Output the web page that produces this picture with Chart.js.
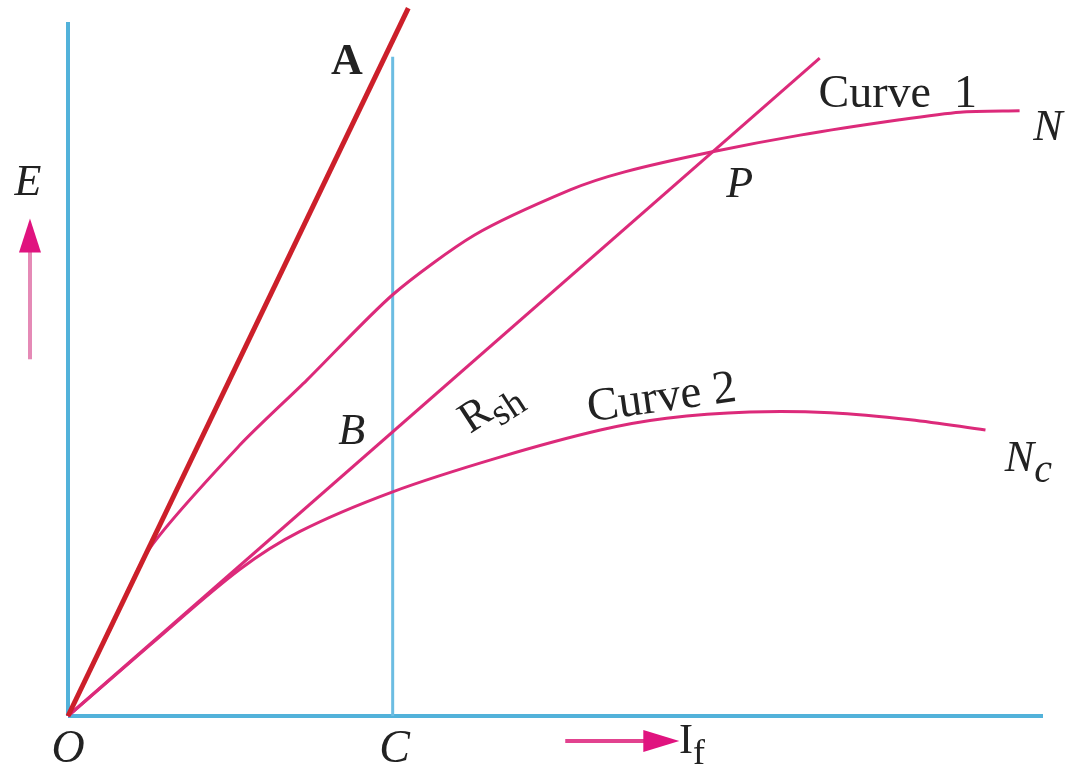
<!DOCTYPE html>
<html>
<head>
<meta charset="utf-8">
<script src="https://cdn.jsdelivr.net/npm/chart.js@4.4.0/dist/chart.umd.min.js"></script>
<style>
html, body { margin: 0; padding: 0; background: #fff; }
#wrap { width: 1081px; height: 778px; }
</style>
</head>
<body>
<div id="wrap"><canvas id="chart"></canvas></div>
<script>
// field current If (x) and generated emf E (y), arbitrary units
const airGapIf = [0, 3.49];
const airGapE = [0, 10.2];

const rshIf = [0, 7.71];
const rshE = [0, 9.48];

const curve1If = [0, 0.43, 0.84, 1.76, 2.45, 3.33, 4.17, 5.15, 5.71, 6.61, 7.51, 8.53, 9.15, 9.76];
const curve1E = [0, 1.24, 2.42, 3.90, 4.84, 6.07, 6.93, 7.58, 7.84, 8.13, 8.37, 8.59, 8.70, 8.72];

const curve2If = [0, 0.84, 1.76, 2.38, 3.33, 4.43, 5.46, 6.14, 6.99, 7.82, 8.64, 9.41];
const curve2E = [0, 1.02, 2.11, 2.66, 3.23, 3.73, 4.12, 4.29, 4.38, 4.37, 4.27, 4.12];

const lineCIf = [3.33, 3.33];
const lineCE = [0, 9.5];

const yAxisIf = [0, 0];
const yAxisE = [0, 10];
const xAxisIf = [0, 10];
const xAxisE = [0, 0];

const pts = (xs, ys) => xs.map((x, i) => ({ x: x, y: ys[i] }));

const pink = '#dc2a7a';
const blue = '#52b2da';

const labels = [
  { text: 'A', x: 2.86, y: 9.41, font: 'bold 44px "Liberation Serif"' },
  { text: 'E', x: -0.41, y: 7.68, font: 'italic 44px "Liberation Serif"' },
  { text: 'O', x: 0, y: -0.49, font: 'italic 46px "Liberation Serif"' },
  { text: 'C', x: 3.35, y: -0.49, font: 'italic 46px "Liberation Serif"' },
  { text: 'B', x: 2.91, y: 4.09, font: 'italic 44px "Liberation Serif"' },
  { text: 'P', x: 6.89, y: 7.65, font: 'italic 44px "Liberation Serif"' },
  { text: 'N', x: 10.05, y: 8.47, font: 'italic 44px "Liberation Serif"' },
  { text: 'Curve  1', x: 8.51, y: 8.95, font: '46px "Liberation Serif"' },
  { text: 'Curve 2', x: 6.09, y: 4.57, font: '47px "Liberation Serif"', rot: -8 },
  { text: 'R', sub: 'sh', x: 4.33, y: 4.45, font: '44px "Liberation Serif"', subFont: '38px "Liberation Serif"', rot: -33 },
  { text: 'N', sub: 'c', x: 9.85, y: 3.7, font: 'italic 44px "Liberation Serif"', subFont: 'italic 40px "Liberation Serif"' },
  { text: 'I', sub: 'f', x: 6.4, y: -0.38, font: '42px "Liberation Serif"', subFont: '36px "Liberation Serif"' }
];

const annotations = {
  id: 'annotations',
  afterDatasetsDraw(chart) {
    const ctx = chart.ctx;
    const xs = chart.scales.x, ys = chart.scales.y;
    ctx.save();
    ctx.fillStyle = '#222';
    ctx.textBaseline = 'middle';
    labels.forEach(l => {
      const px = xs.getPixelForValue(l.x), py = ys.getPixelForValue(l.y);
      ctx.save();
      ctx.translate(px, py);
      if (l.rot) ctx.rotate(l.rot * Math.PI / 180);
      ctx.font = l.font;
      if (!l.sub) {
        ctx.textAlign = 'center';
        ctx.fillText(l.text, 0, 0);
      } else {
        const w1 = ctx.measureText(l.text).width;
        ctx.font = l.subFont || l.font;
        const w2 = ctx.measureText(l.sub).width;
        const start = -(w1 + w2) / 2;
        ctx.textAlign = 'left';
        ctx.font = l.font;
        ctx.fillText(l.text, start, 0);
        ctx.font = l.subFont || l.font;
        ctx.fillText(l.sub, start + w1, 12);
      }
      ctx.restore();
    });

    // E arrow (upwards)
    const ax = xs.getPixelForValue(-0.39);
    const aBot = ys.getPixelForValue(5.14), aTop = ys.getPixelForValue(7.17);
    ctx.strokeStyle = '#e58ab6';
    ctx.lineWidth = 4;
    ctx.beginPath();
    ctx.moveTo(ax, aBot);
    ctx.lineTo(ax, aTop + 30);
    ctx.stroke();
    ctx.fillStyle = '#e0137f';
    ctx.beginPath();
    ctx.moveTo(ax, aTop);
    ctx.lineTo(ax - 11, aTop + 34);
    ctx.lineTo(ax + 11, aTop + 34);
    ctx.closePath();
    ctx.fill();

    // If arrow (rightwards)
    const by = ys.getPixelForValue(-0.36);
    const bL = xs.getPixelForValue(5.1), bR = xs.getPixelForValue(6.27);
    ctx.strokeStyle = '#e2428f';
    ctx.beginPath();
    ctx.moveTo(bL, by);
    ctx.lineTo(bR - 30, by);
    ctx.stroke();
    ctx.beginPath();
    ctx.moveTo(bR, by);
    ctx.lineTo(bR - 36, by - 11);
    ctx.lineTo(bR - 36, by + 11);
    ctx.closePath();
    ctx.fill();
    ctx.restore();
  }
};

new Chart(document.getElementById('chart'), {
  type: 'scatter',
  data: {
    datasets: [
      { data: pts(airGapIf, airGapE), borderColor: '#cc1f2a', borderWidth: 5 },
      { data: pts(rshIf, rshE), borderColor: pink, borderWidth: 3 },
      { data: pts(curve1If, curve1E), borderColor: pink, borderWidth: 3, tension: 0.25 },
      { data: pts(curve2If, curve2E), borderColor: pink, borderWidth: 3, tension: 0.35 },
      { data: pts(lineCIf, lineCE), borderColor: '#6cbde2', borderWidth: 3 },
      { data: pts(yAxisIf, yAxisE), borderColor: blue, borderWidth: 4 },
      { data: pts(xAxisIf, xAxisE), borderColor: blue, borderWidth: 4 }
    ].map(d => Object.assign({ showLine: true, pointRadius: 0, fill: false, clip: false }, d))
  },
  options: {
    responsive: true,
    maintainAspectRatio: false,
    animation: false,
    layout: { padding: { left: 68, right: 38, top: 22, bottom: 62 } },
    plugins: { legend: { display: false }, tooltip: { enabled: false } },
    scales: {
      x: { type: 'linear', min: 0, max: 10, display: false },
      y: { type: 'linear', min: 0, max: 10, display: false }
    }
  },
  plugins: [annotations]
});
</script>
</body>
</html>
